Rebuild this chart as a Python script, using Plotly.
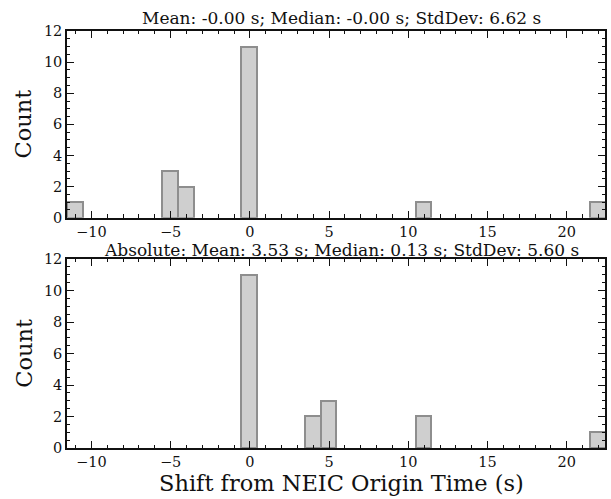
import plotly.graph_objects as go
from plotly.subplots import make_subplots

# Histogram bins (width 1 s), left edge of the first bin and per-bin counts
bin_width = 1.0
x_min, x_max = -11.54, 22.41

shift_centers = [-11.04, -5.04, -4.04, -0.04, 10.96, 21.96]
shift_counts = [1, 3, 2, 11, 1, 1]

abs_centers = [-0.04, 3.96, 4.96, 10.96, 21.96]
abs_counts = [11, 2, 3, 2, 1]

top_title = "Mean: -0.00 s; Median: -0.00 s; StdDev: 6.62 s"
bottom_title = "Absolute: Mean: 3.53 s; Median: 0.13 s; StdDev: 5.60 s"
x_label = "Shift from NEIC Origin Time (s)"
y_label = "Count"

FONT = "DejaVu Serif, serif"

fig = make_subplots(rows=2, cols=1, shared_xaxes=False)

bar_style = dict(
    marker=dict(color="#cfcfcf", line=dict(color="#8e8e8e", width=2)),
    width=bin_width,
    showlegend=False,
    hoverinfo="x+y",
)
fig.add_trace(go.Bar(x=shift_centers, y=shift_counts, **bar_style), row=1, col=1)
fig.add_trace(go.Bar(x=abs_centers, y=abs_counts, **bar_style), row=2, col=1)

axis_common = dict(
    showline=True, linecolor="#111", linewidth=1.5, mirror="allticks",
    ticks="inside", ticklen=7, tickwidth=1, tickcolor="#111",
    showgrid=False, zeroline=False,
    tickfont=dict(family=FONT, size=14.5, color="#111"),
)
for r in (1, 2):
    fig.update_xaxes(range=[x_min, x_max], dtick=5, tick0=0,
                     minor=dict(dtick=1, ticks="inside", ticklen=3.5, tickcolor="#111"),
                     **axis_common, row=r, col=1)
    fig.update_yaxes(range=[0, 12], dtick=2, tick0=0,
                     minor=dict(dtick=0.5, ticks="inside", ticklen=3.5, tickcolor="#111"),
                     **axis_common, row=r, col=1)

fig.update_layout(
    width=611, height=499,
    margin=dict(l=67, r=4, t=31, b=51),
    plot_bgcolor="white", paper_bgcolor="white",
    bargap=0,
    xaxis=dict(domain=[0, 1]), xaxis2=dict(domain=[0, 1]),
    yaxis=dict(domain=[0.5523, 1.0]),
    yaxis2=dict(domain=[0.0, 0.4532]),
    font=dict(family=FONT, color="#111"),
)

# Axes titles and panel titles
ann = [
    dict(text=top_title, x=0.5098, y=1.0, yshift=1, xref="paper", yref="paper",
         xanchor="center", yanchor="bottom", showarrow=False,
         font=dict(family=FONT, size=17)),
    dict(text=bottom_title, x=0.5098, y=0.4532, yshift=-3, xref="paper", yref="paper",
         xanchor="center", yanchor="bottom", showarrow=False,
         font=dict(family=FONT, size=17)),
    dict(text=x_label, x=0.5098, y=0, yshift=-20, xref="paper", yref="paper",
         xanchor="center", yanchor="top", showarrow=False,
         font=dict(family=FONT, size=22.5)),
    dict(text=y_label, x=-0.0815, y=0.7761, xref="paper", yref="paper",
         xanchor="center", yanchor="middle", textangle=-90, showarrow=False,
         font=dict(family=FONT, size=22.5)),
    dict(text=y_label, x=-0.0815, y=0.2266, xref="paper", yref="paper",
         xanchor="center", yanchor="middle", textangle=-90, showarrow=False,
         font=dict(family=FONT, size=22.5)),
]
fig.update_layout(annotations=ann)

fig.write_html("out.html")
